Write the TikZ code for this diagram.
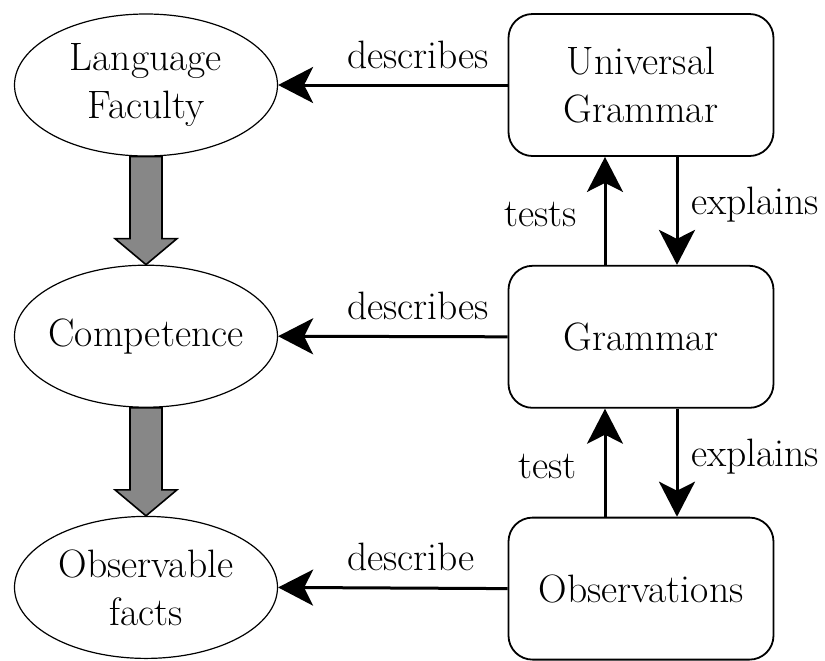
\documentclass[tikz,border=0pt]{standalone}
\usetikzlibrary{positioning, calc, shapes.geometric, arrows.meta}
\tikzstyle{Ell} = [ellipse, draw, line width=0.6pt,
minimum width=131.5pt, minimum height=71pt, inner xsep=-15pt, inner ysep=0pt,
align=center]
\tikzstyle{Box} = [rectangle, rounded corners=12pt, draw, line width=0.9pt,
minimum width=132.5pt, minimum height=71pt, inner sep=0pt, align=center]
\tikzstyle{Arrow} = [line width=1.5pt,
-{Stealth[length=17.5pt, width=18pt, inset=4.5pt]}]
\tikzstyle{Block} = [draw, fill=black!47, line width=0.8pt, line join=miter]
\tikzstyle{Lbl} = [inner sep=0pt, anchor=south west, yshift=7.5pt]

\begin{document}
\begin{tikzpicture}[node distance=54pt and 114.75pt,
    font=\fontsize{19.8}{24}\selectfont]
    \node[Ell] (1) {Language\\Faculty};
    \node[Ell, below =of 1] (2) {Competence};
    \node[Ell, below =of 2] (3) {Observable\\facts};
    \node[Box, right =of 1] (4) {Universal\\Grammar};
    \node[Box, below =of 4] (5) {Grammar};
    \node[Box, below =of 5] (6) {Observations};
    \useasboundingbox ($(1.center)+(-73pt,42.5pt)$) rectangle +(412.5pt,-328.5pt);
    % describes
    \draw[Arrow] (4.west) -- (1.east) node[Lbl, pos=0.706] {describes};
    \draw[Arrow] (5.west) -- (2.east) node[Lbl, pos=0.706] {describes};
    \draw[Arrow] (6.west) -- (3.east) node[Lbl, pos=0.706] {describe};
    % tests / explains
    \draw[Arrow] ([xshift=-18pt]5.north) -- ([xshift=-18pt]4.south)
        node[midway, left=10pt, yshift=-2pt] {tests};
    \draw[Arrow] ([xshift=18pt]4.south) -- ([xshift=18pt]5.north)
        node[midway, right=3pt, yshift=3pt] {explains};
    \draw[Arrow] ([xshift=-18pt]6.north) -- ([xshift=-18pt]5.south)
        node[midway, left=10pt, yshift=-2pt] {test};
    \draw[Arrow] ([xshift=18pt]5.south) -- ([xshift=18pt]6.north)
        node[midway, right=3pt, yshift=3pt] {explains};
    % big arrows
    \draw[Block] ([xshift=-8pt]1.south) -- ([xshift=-8pt, yshift=13pt]2.north)
        -- ([xshift=-15.5pt, yshift=13pt]2.north) -- (2.north)
        -- ([xshift=15.5pt, yshift=13pt]2.north) -- ([xshift=8pt, yshift=13pt]2.north)
        -- ([xshift=8pt]1.south) -- cycle;
    \draw[Block] ([xshift=-8pt]2.south) -- ([xshift=-8pt, yshift=13pt]3.north)
        -- ([xshift=-15.5pt, yshift=13pt]3.north) -- (3.north)
        -- ([xshift=15.5pt, yshift=13pt]3.north) -- ([xshift=8pt, yshift=13pt]3.north)
        -- ([xshift=8pt]2.south) -- cycle;
\end{tikzpicture}
\end{document}
